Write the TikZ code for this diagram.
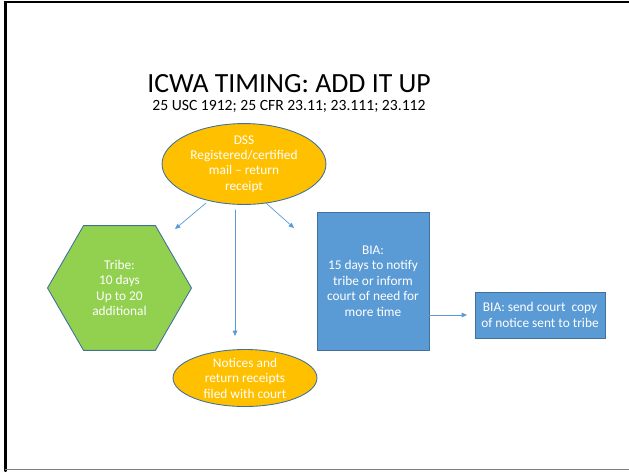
\documentclass[tikz,border=0pt]{standalone}
\usepackage{fontspec}
\setmainfont{Carlito}
\usetikzlibrary{arrows.meta}
\usetikzlibrary{shapes.geometric,positioning}
\definecolor{mailorange}{HTML}{FFC000}
\definecolor{tribegreen}{HTML}{92D050}
\definecolor{biablue}{HTML}{5B9BD5}
\definecolor{edgeblue}{HTML}{41719C}
\tikzset{>={Triangle[length=3pt,width=2.6pt]},
  bodytext/.style={text=white,font=\fontsize{7.6}{8.8}\selectfont,align=center,inner sep=0pt},
  blob/.style={ellipse,draw=edgeblue,line width=0.5pt,fill=mailorange,bodytext},
  hexa/.style={regular polygon,regular polygon sides=6,draw=edgeblue,line width=0.5pt,fill=tribegreen,bodytext},
  box/.style={rectangle,draw=edgeblue,line width=0.5pt,fill=biablue,bodytext},
  link/.style={->,draw=biablue,line width=0.4pt}}
\begin{document}
\begin{tikzpicture}[x=0.02cm,y=-0.02cm,line cap=round]
  \useasboundingbox (0,0) rectangle (629,471);

  % slide frame
  \draw [line width=1.6pt] (629,2) -- (5.5,2) -- (5.5,471);
  \draw [gray, line width=1pt] (5.5,469.5) -- (629,469.5);

  % heading
  \node (title) at (289,92.5) [anchor=base,inner sep=0pt,text depth=0pt,font=\fontsize{15.8}{18}\selectfont] {ICWA TIMING: ADD IT UP};
  \node (cite) at (289,110.5) [anchor=base,inner sep=0pt,text height=5pt,font=\fontsize{8.9}{10}\selectfont] {25 USC 1912; 25 CFR 23.11; 23.111; 23.112};

  % shapes
  \node (dss) at (244,164) [blob,minimum width=3.28cm,minimum height=1.24cm] {DSS\\Registered/certified\\mail -- return\\receipt};
  \node (tribe) at (119.5,288) [hexa,minimum size=2.88cm] {Tribe:\\10 days\\Up to 20\\additional};
  \node (bia) at (373,281) [box,minimum width=2.24cm,minimum height=2.76cm] {BIA:\\15 days to notify\\tribe or inform\\court of need for\\more time};
  \node (copy) at (540,315) [box,minimum width=2.6cm,minimum height=0.92cm] {BIA: send court~ copy\\of notice sent to tribe};
  \node (notices) at (245,378) [blob,minimum width=2.88cm,minimum height=1.1cm] {Notices and\\return receipts\\filed with court};

  % arrow ends
  \coordinate (dss-l) at (206,203);
  \coordinate (dss-m) at (235,210);
  \coordinate (dss-r) at (266,203);
  \coordinate (tribe-in) at (175,229);
  \coordinate (notices-in) at (235,336);
  \coordinate (bia-in) at (294,228);
  \coordinate (bia-out) at (429,315);
  \coordinate (copy-in) at (467,315);

  \draw [link] (dss-l) -- (tribe-in);
  \draw [link] (dss-m) -- (notices-in);
  \draw [link] (dss-r) -- (bia-in);
  \draw [link] (bia-out) -- (copy-in);

\end{tikzpicture}
\end{document}
